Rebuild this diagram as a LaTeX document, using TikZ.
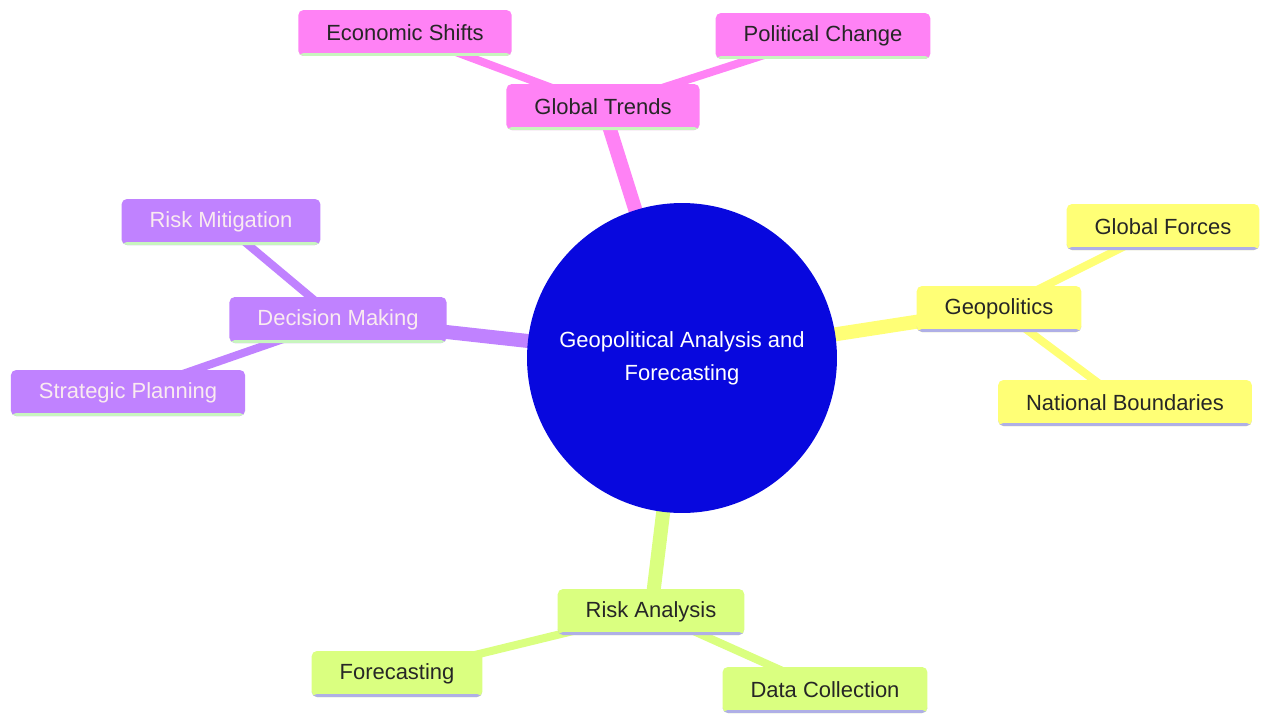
\documentclass[tikz,border=0pt]{standalone}
\usepackage{fontspec}
\setmainfont{Liberation Sans}
\usetikzlibrary{backgrounds}
\definecolor{rootblue}{RGB}{8,8,222}
\definecolor{trendpink}{RGB}{255,130,245}
\definecolor{decpurple}{RGB}{192,130,255}
\definecolor{geoyellow}{RGB}{255,255,118}
\definecolor{riskgreen}{RGB}{218,255,128}
\definecolor{edgegreen}{RGB}{200,245,190}
\definecolor{edgelav}{RGB}{175,175,230}
\tikzset{
  topic/.style = {rounded corners=3pt, minimum height=0.92cm, inner xsep=0.56cm, inner ysep=0pt,
                  font=\fontsize{12.5}{15}\selectfont},
  underline/.style = {path picture={\fill[#1] (path picture bounding box.south west)
                  rectangle ([yshift=0.06cm]path picture bounding box.south east);}},
  pinkbox/.style = {topic, fill=trendpink, text=black!85, underline=edgegreen},
  purplebox/.style = {topic, fill=decpurple, text=white!92!purple, underline=edgegreen},
  yellowbox/.style = {topic, fill=geoyellow, text=black!85, underline=edgelav},
  greenbox/.style = {topic, fill=riskgreen, text=black!85, underline=edgelav},
  mainlink/.style = {line width=0.28cm},
  sublink/.style = {line width=0.16cm}
}
\begin{document}
\begin{tikzpicture}[x=0.02cm, y=-0.02cm]
    \useasboundingbox (0,0) rectangle (1261,714);
    % root
    \node[circle, fill=rootblue, minimum size=6.2cm, text=white, align=center,
          font=\fontsize{12.5}{18.8}\selectfont] (root) at (682,358) {Geopolitical Analysis and\\Forecasting};
    % global trends
    \node[pinkbox] (trends) at (603,107) {Global Trends};
    \node[pinkbox] (econ) at (405,33) {Economic Shifts};
    \node[pinkbox] (polit) at (823,36) {Political Change};
    % geopolitics
    \node[yellowbox] (geo) at (999,309) {Geopolitics};
    \node[yellowbox] (forces) at (1163,227) {Global Forces};
    \node[yellowbox] (bounds) at (1125,403) {National Boundaries};
    % decision making
    \node[purplebox] (decide) at (338,320) {Decision Making};
    \node[purplebox] (mitig) at (221,222) {Risk Mitigation};
    \node[purplebox] (plan) at (128,393) {Strategic Planning};
    % risk analysis
    \node[greenbox] (risk) at (651,612) {Risk Analysis};
    \node[greenbox] (fcast) at (397,674) {Forecasting};
    \node[greenbox] (data) at (825,690) {Data Collection};
    % links
    \begin{pgfonlayer}{background}
        \draw[mainlink, trendpink] (root.center) -- (trends.center);
        \draw[sublink, trendpink] (trends.center) -- (econ.center);
        \draw[sublink, trendpink] (trends.center) -- (polit.center);
        \draw[mainlink, geoyellow] (root.center) -- (geo.center);
        \draw[sublink, geoyellow] (geo.center) -- (forces.center);
        \draw[sublink, geoyellow] (geo.center) -- (bounds.center);
        \draw[mainlink, decpurple] (root.center) -- (decide.center);
        \draw[sublink, decpurple] (decide.center) -- (mitig.center);
        \draw[sublink, decpurple] (decide.center) -- (plan.center);
        \draw[mainlink, riskgreen] (root.center) -- (risk.center);
        \draw[sublink, riskgreen] (risk.center) -- (fcast.center);
        \draw[sublink, riskgreen] (risk.center) -- (data.center);
    \end{pgfonlayer}
\end{tikzpicture}
\end{document}
